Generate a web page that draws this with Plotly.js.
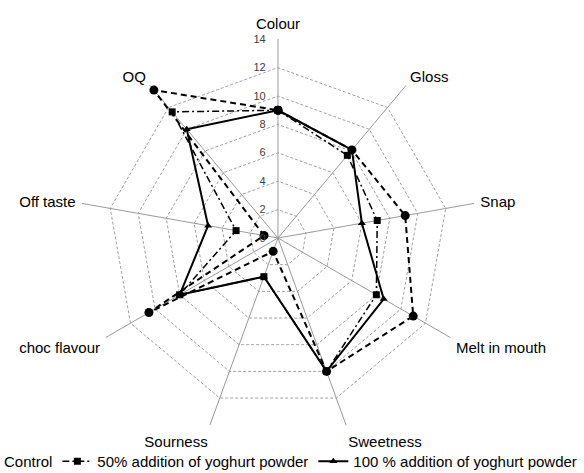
<!DOCTYPE html>
<html>
<head>
<meta charset="utf-8">
<script src="https://cdn.plot.ly/plotly-3.0.1.min.js"></script>
<style>
html,body{margin:0;padding:0;background:#fff;overflow:hidden;width:584px;height:473px;}
#chart{position:absolute;left:-36px;top:0;width:620px;height:473px;}
</style>
</head>
<body>
<div id="chart"></div>
<script>
var categories = ["Colour", "Gloss", "Snap", "Melt in mouth", "Sweetness", "Sourness", "choc flavour", "Off taste", "OQ"];
var control = [9.0, 8.1, 9.1, 11.0, 10.0, 1.0, 10.5, 1.0, 13.6];
var add50 = [9.0, 7.6, 7.1, 8.0, 10.0, 2.9, 8.0, 3.0, 11.6];
var add100 = [9.0, 8.1, 6.0, 8.6, 10.0, 2.9, 8.0, 5.0, 10.0];
var seriesNames = ["Control", "50% addition of yoghurt powder", "100 % addition of yoghurt powder"];
var radialTicks = [0, 2, 4, 6, 8, 10, 12, 14];

function closeLoop(arr) { return arr.concat([arr[0]]); }

var traces = [
  {
    type: "scatterpolar", mode: "lines+markers", name: seriesNames[0],
    r: closeLoop(control), theta: closeLoop(categories),
    line: {color: "#000", width: 2, dash: "6px,4px"},
    marker: {symbol: "circle", size: 9, color: "#000"}
  },
  {
    type: "scatterpolar", mode: "lines+markers", name: seriesNames[1],
    r: closeLoop(add50), theta: closeLoop(categories),
    line: {color: "#000", width: 1.5, dash: "7px,3px,2px,3px"},
    marker: {symbol: "square", size: 7, color: "#000"}
  },
  {
    type: "scatterpolar", mode: "lines+markers", name: seriesNames[2],
    r: closeLoop(add100), theta: closeLoop(categories),
    line: {color: "#000", width: 2},
    marker: {symbol: "triangle-up", size: 7, color: "#000"}
  }
];

var layout = {
  width: 620, height: 473,
  margin: {l: 0, r: 0, t: 0, b: 25, autoexpand: false},
  paper_bgcolor: "#fff",
  font: {family: "Liberation Sans, Arial, sans-serif", color: "#000", size: 13},
  showlegend: true,
  legend: {
    orientation: "h", x: 0, xanchor: "left", y: 0.0067, yanchor: "top",
    font: {size: 15, color: "#000"}, bgcolor: "rgba(0,0,0,0)"
  },
  polar: {
    domain: {x: [0.18548, 0.82742], y: [0.02455, 0.91295]},
    gridshape: "linear",
    bgcolor: "#fff",
    angularaxis: {
      type: "category", categoryarray: categories, direction: "clockwise", rotation: 90,
      showline: false, gridcolor: "#9a9a9a", gridwidth: 1,
      ticks: "outside", ticklen: 3, tickcolor: "rgba(0,0,0,0)",
      tickfont: {size: 15, color: "#000"}
    },
    radialaxis: {
      range: [0, 14.02], tickvals: radialTicks, ticktext: radialTicks.map(String),
      angle: 90, side: "counterclockwise", tickangle: 90,
      showline: false, ticks: "outside", ticklen: 8, tickcolor: "rgba(0,0,0,0)",
      gridcolor: "#a0a0a0", griddash: "3px,2px", gridwidth: 1,
      tickfont: {size: 11, color: "#404040"}
    }
  }
};

Plotly.newPlot("chart", traces, layout, {displayModeBar: false, staticPlot: true});
</script>
</body>
</html>
